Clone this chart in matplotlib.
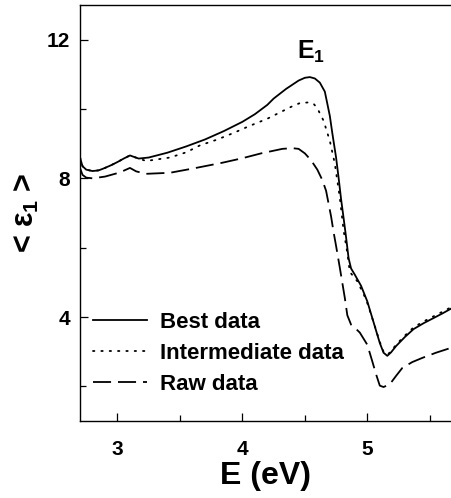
import matplotlib
matplotlib.use('Agg')
import matplotlib.pyplot as plt

# Energia (eV) y <eps1>
E_best = [2.70, 2.72, 2.75, 2.80, 2.85, 2.90, 2.95, 3.00, 3.05, 3.10, 3.13, 3.17,
          3.25, 3.40, 3.55, 3.70, 3.85, 4.00, 4.10, 4.20, 4.25, 4.35, 4.45, 4.50,
          4.54, 4.58, 4.62, 4.66, 4.70, 4.72, 4.75, 4.77, 4.79, 4.81, 4.83, 4.85,
          4.87, 4.90, 4.95, 5.00, 5.05, 5.10, 5.13, 5.16, 5.19, 5.23, 5.30, 5.37,
          5.45, 5.52, 5.60, 5.67]
eps_best = [8.60, 8.35, 8.25, 8.21, 8.23, 8.30, 8.38, 8.47, 8.57, 8.66, 8.62, 8.57,
            8.60, 8.74, 8.92, 9.12, 9.36, 9.63, 9.85, 10.12, 10.30, 10.58, 10.82, 10.90,
            10.92, 10.88, 10.76, 10.50, 9.80, 9.30, 8.60, 8.02, 7.40, 6.86, 6.30, 5.70,
            5.40, 5.22, 4.90, 4.45, 3.85, 3.25, 2.97, 2.88, 2.98, 3.16, 3.42, 3.65,
            3.82, 3.95, 4.10, 4.24]

E_inter = [2.70, 2.72, 2.75, 2.80, 2.85, 2.90, 2.95, 3.00, 3.05, 3.10, 3.13, 3.17,
           3.23, 3.42, 3.55, 3.66, 3.80, 3.93, 4.05, 4.20, 4.30, 4.40, 4.46, 4.53,
           4.57, 4.60, 4.65, 4.70, 4.74, 4.78, 4.81, 4.84, 4.86, 4.92, 4.99, 5.05,
           5.10, 5.13, 5.16, 5.19, 5.23, 5.30, 5.37, 5.45, 5.52, 5.60, 5.67]
eps_inter = [8.60, 8.35, 8.25, 8.21, 8.23, 8.30, 8.38, 8.47, 8.57, 8.66, 8.62, 8.57,
             8.50, 8.60, 8.75, 8.95, 9.12, 9.31, 9.50, 9.72, 9.90, 10.08, 10.17, 10.19,
             10.15, 10.02, 9.66, 9.08, 8.42, 7.44, 6.50, 5.85, 5.30, 5.03, 4.51, 3.85,
             3.28, 3.00, 2.91, 3.01, 3.20, 3.46, 3.70, 3.87, 4.00, 4.15, 4.28]

E_raw = [2.70, 2.72, 2.75, 2.80, 2.90, 3.00, 3.05, 3.10, 3.15, 3.23, 3.42, 3.60,
         3.84, 4.00, 4.15, 4.32, 4.40, 4.45, 4.50, 4.55, 4.60, 4.64, 4.67, 4.71,
         4.73, 4.75, 4.78, 4.82, 4.84, 4.87, 4.92, 4.94, 5.00, 5.04, 5.07, 5.10,
         5.13, 5.18, 5.23, 5.28, 5.36, 5.44, 5.55, 5.67]
eps_raw = [8.30, 8.10, 8.02, 8.00, 8.05, 8.15, 8.22, 8.30, 8.20, 8.13, 8.16, 8.28,
           8.45, 8.58, 8.72, 8.85, 8.87, 8.85, 8.72, 8.52, 8.25, 7.95, 7.64, 6.90,
           6.45, 6.05, 5.42, 4.55, 4.05, 3.78, 3.62, 3.55, 3.20, 2.72, 2.35, 2.02,
           1.98, 2.06, 2.30, 2.53, 2.70, 2.82, 2.97, 3.11]

labels = ['Best data', 'Intermediate data', 'Raw data']
xticks = [3, 4, 5]
yticks = [4, 8, 12]

plt.rcParams['font.family'] = ['Liberation Sans', 'DejaVu Sans']
plt.rcParams['font.weight'] = 'bold'
plt.rcParams['mathtext.fontset'] = 'custom'
plt.rcParams['mathtext.rm'] = 'Liberation Sans:bold'
plt.rcParams['mathtext.it'] = 'Liberation Sans:bold'
plt.rcParams['mathtext.bf'] = 'Liberation Sans:bold'
plt.rcParams['lines.scale_dashes'] = False

fig = plt.figure(figsize=(4.51, 4.98), dpi=100)
ax = fig.add_axes([0.1774, 0.1546, 0.8226, 0.8354])

ax.plot(E_best, eps_best, color='black', lw=1.3, label=labels[0])
ax.plot(E_inter, eps_inter, color='black', lw=1.3, linestyle=(0, (1.0, 5.0)),
        dash_capstyle='round', label=labels[1])
ax.plot(E_raw, eps_raw, color='black', lw=1.3, linestyle=(0, (13, 5)), label=labels[2])

ax.set_xlim(2.7, 5.67)
ax.set_ylim(1, 13)
ax.set_xticks(xticks)
ax.set_xticks([3.5, 4.5, 5.5], minor=True)
ax.set_yticks(yticks)
ax.set_yticks([2, 6, 10], minor=True)
ax.tick_params(which='both', direction='in', labelsize=15, width=0.9)
ax.tick_params(which='major', length=6)
ax.tick_params(which='minor', length=4)
ax.tick_params(axis='x', pad=14)
ax.tick_params(axis='y', pad=7)
for lab in ax.get_xticklabels() + ax.get_yticklabels():
    lab.set_fontweight('bold')
for s in ['left', 'bottom', 'top']:
    ax.spines[s].set_linewidth(1.0)
ax.spines['right'].set_visible(False)

ax.set_xlabel('E (eV)', fontsize=23, fontweight='bold', labelpad=1)
ax.set_ylabel(r'< $\varepsilon_1$ >', fontsize=22, fontweight='bold', labelpad=4)

ax.text(4.435, 11.45, r'E$_1$', fontsize=18, fontweight='bold')

ax.legend(loc='upper left', bbox_to_anchor=(0.035, 0.262), frameon=False,
          prop={'size': 16, 'weight': 'bold'}, handlelength=2.45,
          handletextpad=0.58, labelspacing=0.45, borderpad=0, borderaxespad=0)

fig.savefig('out.png', dpi=100)
